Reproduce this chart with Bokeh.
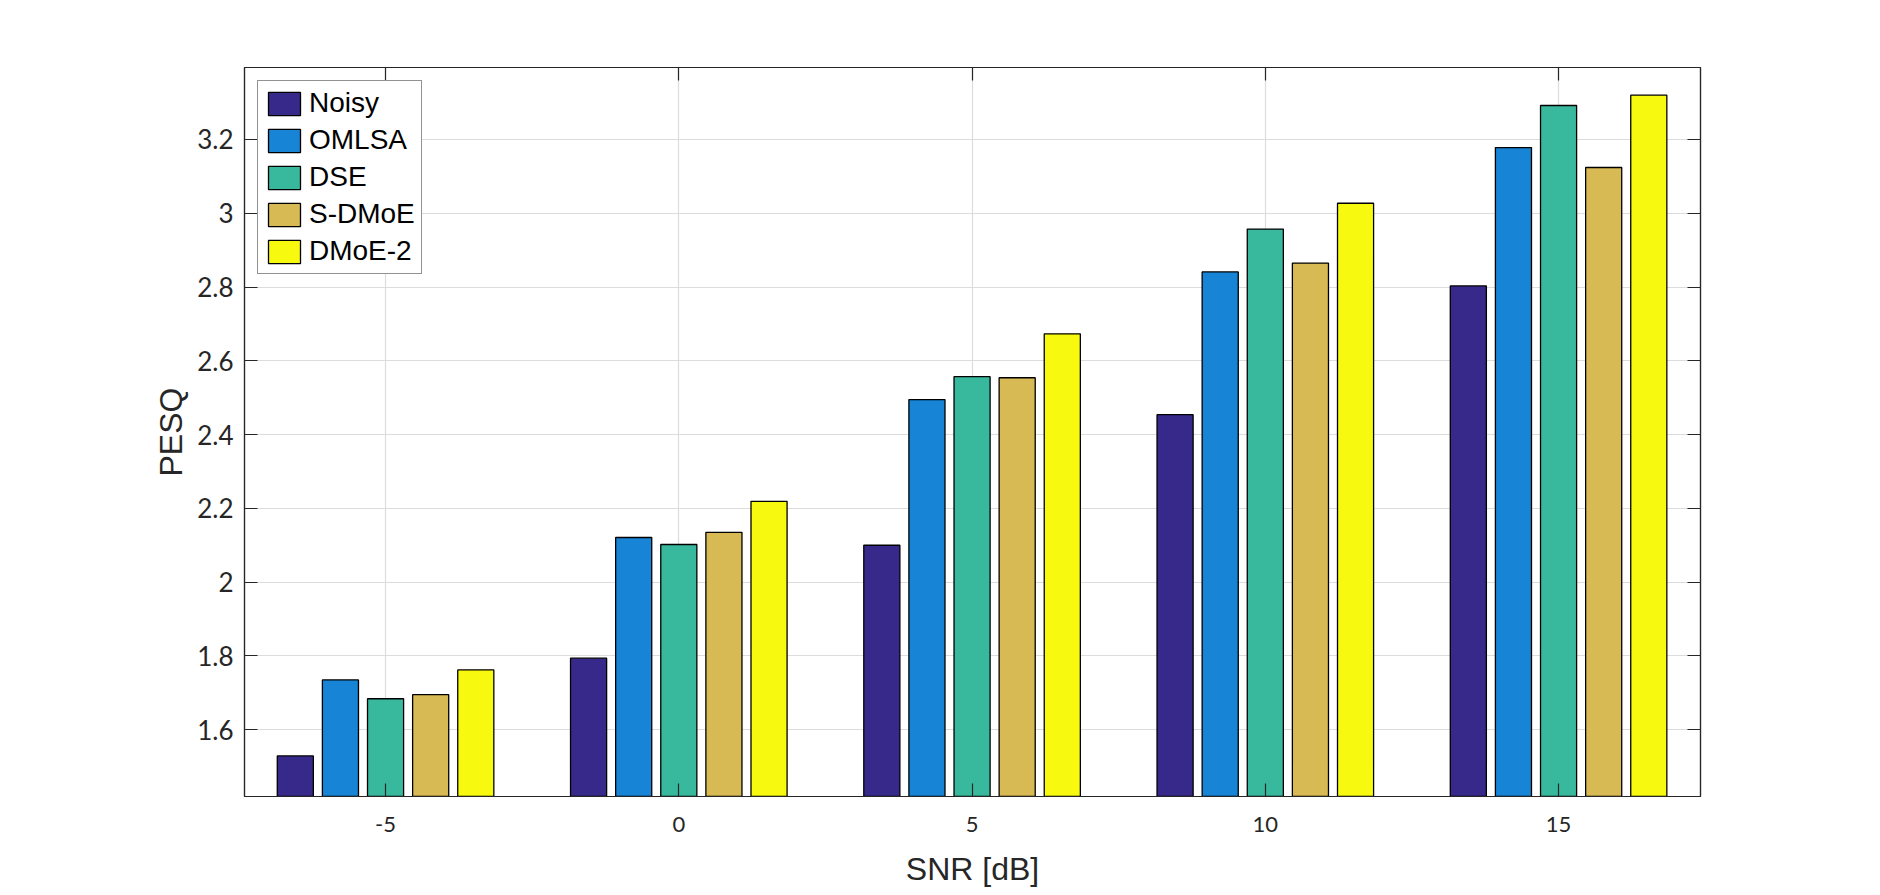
import numpy as np
from bokeh.plotting import figure
from bokeh.models import Range1d, FixedTicker, LinearAxis
from bokeh.embed import file_html
from bokeh.resources import INLINE

# ---------------- data ----------------
snr_labels = ["-5", "0", "5", "10", "15"]
methods = ["Noisy", "OMLSA", "DSE", "S-DMoE", "DMoE-2"]
noisy = [1.529, 1.794, 2.100, 2.454, 2.803]
omlsa = [1.735, 2.121, 2.495, 2.841, 3.178]
dse = [1.684, 2.102, 2.557, 2.957, 3.292]
sdmoe = [1.695, 2.135, 2.554, 2.865, 3.124]
dmoe2 = [1.762, 2.219, 2.673, 3.027, 3.320]
series = [noisy, omlsa, dse, sdmoe, dmoe2]
colors = ["#37298a", "#1784d5", "#38b89d", "#d8ba55", "#f7fa0f"]
y_ticks = [1.6, 1.8, 2.0, 2.2, 2.4, 2.6, 2.8, 3.0, 3.2]
y_tick_labels = ["1.6", "1.8", "2", "2.2", "2.4", "2.6", "2.8", "3", "3.2"]

# ---------------- layout ----------------
n_groups = len(snr_labels)
n_series = len(methods)
group_pos = np.arange(1, n_groups + 1)
group_width = min(0.8, n_series / (n_series + 1.5))
step = group_width / n_series
bar_w = 0.8 * step

AX = "#262626"

p = figure(width=1880, height=895,
           x_range=Range1d(0.519, 5.484), y_range=Range1d(1.419, 3.395),
           output_backend="svg", toolbar_location=None,
           min_border_left=244, min_border_right=180,
           min_border_top=67, min_border_bottom=99,
           background_fill_color="white", border_fill_color="white")
p.outline_line_color = AX
p.outline_line_width = 1.2

for k, (name, vals, col) in enumerate(zip(methods, series, colors)):
    xs = group_pos + (k - (n_series - 1) / 2) * step
    p.vbar(x=xs, top=vals, bottom=0, width=bar_w, fill_color=col,
           line_color="black", line_width=1.3, legend_label=name)

# axes
xt = FixedTicker(ticks=list(group_pos))
yt = FixedTicker(ticks=y_ticks)
x_over = {int(g): lab for g, lab in zip(group_pos, snr_labels)}
y_over = {t: lab for t, lab in zip(y_ticks, y_tick_labels)}

xa = p.xaxis[0]
xa.ticker = xt
xa.major_label_overrides = x_over
xa.major_label_text_font = "Lato"
xa.major_label_text_font_size = "22px"
xa.major_label_text_color = AX
xa.major_label_standoff = 20
xa.axis_label = "SNR [dB]"
xa.axis_label_text_font = "Liberation Sans"
xa.axis_label_text_font_size = "32px"
xa.axis_label_text_font_style = "normal"
xa.axis_label_text_color = AX
xa.axis_label_standoff = 16

ya = p.yaxis[0]
ya.ticker = yt
ya.major_label_overrides = y_over
ya.major_label_text_font = "Lato"
ya.major_label_text_font_size = "26px"
ya.major_label_text_color = AX
ya.major_label_standoff = 11
ya.axis_label = "PESQ"
ya.axis_label_text_font = "Liberation Sans"
ya.axis_label_text_font_size = "32px"
ya.axis_label_text_font_style = "normal"
ya.axis_label_text_color = AX
ya.axis_label_standoff = 5

top_ax = LinearAxis(ticker=xt, major_label_text_font_size="1px",
                    major_label_text_color=None, major_label_standoff=0)
right_ax = LinearAxis(ticker=yt, major_label_text_font_size="1px",
                      major_label_text_color=None, major_label_standoff=0)
p.add_layout(top_ax, "above")
p.add_layout(right_ax, "right")

for ax in [xa, ya, top_ax, right_ax]:
    ax.axis_line_color = AX
    ax.axis_line_width = 1.2
    ax.major_tick_line_color = AX
    ax.major_tick_line_width = 1.2
    ax.major_tick_in = 13
    ax.major_tick_out = 0
    ax.minor_tick_line_color = None

p.xgrid.ticker = xt
p.ygrid.ticker = yt
p.grid.grid_line_color = "#dcdcdc"
p.grid.grid_line_width = 1.2

lg = p.legend[0]
lg.location = "top_left"
lg.margin = 13
lg.padding = 6
lg.spacing = 5
lg.glyph_width = 40
lg.glyph_height = 29
lg.label_standoff = 5
lg.label_text_font = "Liberation Sans"
lg.label_text_font_size = "28px"
lg.label_text_color = "black"
lg.border_line_color = AX
lg.border_line_width = 1.2
lg.background_fill_color = "white"
lg.background_fill_alpha = 1.0

open("out.html", "w").write(file_html(p, INLINE))
